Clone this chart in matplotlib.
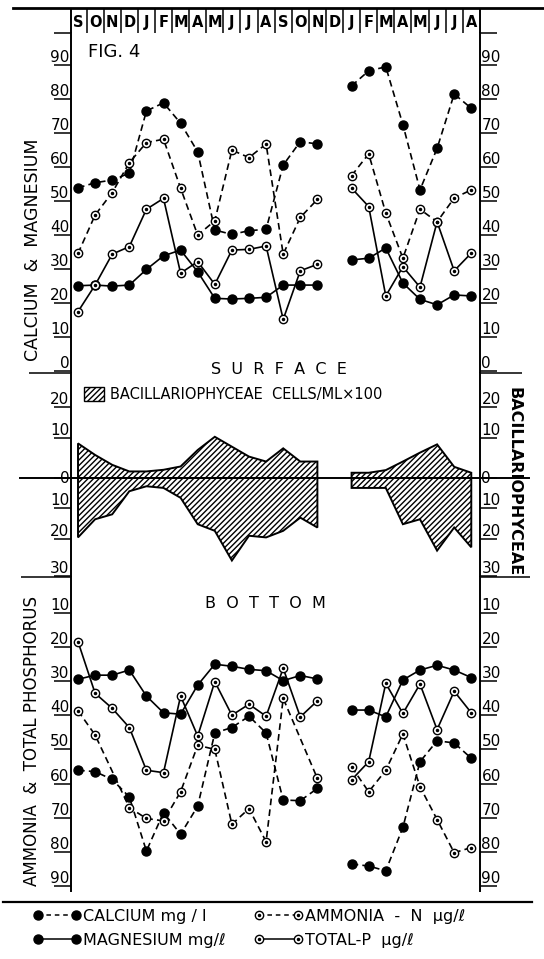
import numpy as np
import matplotlib.pyplot as plt
from matplotlib.lines import Line2D
from matplotlib.patches import Patch

# months, Sept year 1 .. Aug year 3 (Dec of 2nd year not sampled)
months = ['S', 'O', 'N', 'D', 'J', 'F', 'M', 'A', 'M', 'J', 'J', 'A',
          'S', 'O', 'N', 'D', 'J', 'F', 'M', 'A', 'M', 'J', 'J', 'A']
nan = np.nan

# surface
surf_calcium = [52.4, 53.9, 54.7, 56.7, 75.0, 77.4, 71.4, 63.0, 40.0, 38.7, 39.8, 40.2,
                59.1, 66.0, 65.3, nan, 82.4, 86.8, 88.0, 71.0, 51.8, 64.0, 80.0, 75.8]
surf_magnesium = [23.6, 23.8, 23.5, 23.8, 28.4, 32.4, 34.1, 27.7, 19.9, 19.7, 19.9, 20.2,
                  23.8, 23.8, 23.8, nan, 31.2, 31.7, 34.7, 24.4, 19.6, 18.0, 20.9, 20.6]
surf_ammonia = [33.1, 44.4, 51.0, 59.8, 65.7, 66.7, 52.3, 38.5, 42.7, 63.5, 61.3, 65.3,
                32.9, 43.7, 49.0, nan, 56.0, 62.4, 45.0, 31.7, 46.1, 42.4, 49.4, 51.8]
surf_total_p = [16.0, 23.8, 32.9, 35.1, 46.1, 49.3, 27.3, 30.7, 24.0, 34.1, 34.3, 35.3,
                13.7, 28.0, 29.9, nan, 52.3, 46.9, 20.6, 29.2, 23.2, 42.4, 28.0, 33.2]

# bacillariophyceae cells/ml x100
bac_surface = [10.5, 7.0, 4.0, 2.0, 2.0, 2.5, 3.5, 8.5, 12.5, 9.5, 6.5, 5.0,
               9.0, 5.0, 5.0, nan, 1.6, 1.6, 2.4, 5.0, 7.7, 10.2, 3.4, 1.6]
bac_bottom = [18.0, 12.5, 11.0, 4.0, 2.5, 3.0, 6.0, 14.0, 16.0, 25.0, 17.5, 18.0,
              16.0, 12.0, 15.0, nan, 3.0, 3.0, 3.0, 14.0, 12.5, 22.0, 15.0, 21.0]

# bottom
bot_calcium = [57.7, 58.1, 60.4, 65.5, 81.3, 70.1, 76.4, 68.2, 46.8, 45.2, 41.9, 46.8,
               66.4, 66.6, 63.0, nan, 85.1, 85.7, 87.1, 74.4, 55.2, 49.1, 49.7, 54.2]
bot_magnesium = [31.1, 29.9, 29.9, 28.4, 36.0, 40.9, 41.3, 32.8, 26.7, 27.3, 28.2, 28.6,
                 31.5, 30.0, 31.0, nan, 40.1, 40.1, 42.1, 31.3, 28.4, 27.0, 28.4, 30.6]
bot_ammonia = [40.3, 47.4, nan, 68.6, 71.8, 72.5, 64.0, 50.4, 51.6, 73.5, 68.9, 78.6,
               36.7, nan, 60.1, nan, 56.7, 64.0, 57.7, 47.1, 62.5, 72.1, 81.8, 80.3]
bot_total_p = [20.1, 35.2, 39.6, 45.2, 57.7, 58.4, 36.0, 47.7, 31.8, 41.6, 38.4, 41.9,
               27.9, 42.1, 37.4, nan, 60.5, 55.2, 32.3, 41.1, 32.5, 45.8, 34.6, 40.9]

plt.rcParams['hatch.linewidth'] = 1.0
W, H = 544, 959
fig = plt.figure(figsize=(W / 100, H / 100), dpi=100)
x = np.arange(len(months))
years = (x < 15, x > 15)


def fx(px):
    return px / W


def fy(py):
    return 1 - py / H


def make_ax(top, bottom):
    return fig.add_axes([fx(71), fy(bottom), fx(409), (bottom - top) / H])


def style_panel(ax, ticks, labels):
    for s in ('top', 'bottom'):
        ax.spines[s].set_visible(False)
    for s in ('left', 'right'):
        ax.spines[s].set_linewidth(1.4)
    ax.set_xlim(-0.41, 23.51)
    ax.set_xticks([])
    ax.set_yticks(ticks)
    ax.set_yticklabels(labels)
    ax.tick_params(axis='y', which='major', left=True, right=True, labelleft=True,
                   labelright=True, direction='out', length=12, width=1.1, pad=-11,
                   labelsize=11)
    for t in ax.yaxis.get_major_ticks():
        t.label1.set_verticalalignment('bottom')
        t.label2.set_verticalalignment('bottom')


def draw(ax, vals, filled, dashed):
    y = np.array(vals, dtype=float)
    ok = ~np.isnan(y)
    for part in years:
        k = part & ok
        ax.plot(x[k], y[k], color='black', lw=1.2,
                ls=(0, (4, 2.5)) if dashed else '-',
                marker='o', ms=6.5 if filled else 6,
                mfc='black' if filled else 'white', mec='black', mew=1.0, zorder=3)
        if not filled:
            ax.plot(x[k], y[k], ls='none', marker='o', ms=1.5, color='black', zorder=4)


def hatched_area(ax, vals, sign):
    y = sign * np.array(vals, dtype=float)
    for part in years:
        xs, ys = x[part], y[part]
        ax.fill(np.r_[xs, xs[::-1]], np.r_[ys, np.zeros(len(xs))],
                facecolor='white', edgecolor='black', hatch='//////', lw=1.4)


# header with month boxes
hdr = make_ax(9, 32.8)
hdr.set_xlim(-0.41, 23.51)
hdr.set_ylim(0, 1)
hdr.spines['top'].set_visible(False)
hdr.spines['bottom'].set_visible(False)
for s in ('left', 'right'):
    hdr.spines[s].set_linewidth(1.4)
hdr.set_xticks([])
hdr.set_yticks([])
hdr.set_xticks(np.arange(0.5, 23, 1), minor=True)
hdr.tick_params(which='minor', length=0)
hdr.grid(which='minor', axis='x', color='black', lw=1.1)
for i, m in enumerate(months):
    hdr.text(i, 0.45, m, ha='center', va='center', fontsize=10.5, fontweight='bold')

# surface panel
top = make_ax(32.8, 372.8)
top.set_ylim(-2, 98)
style_panel(top, [v - 1.6 for v in range(0, 100, 10)] + [98],
            [str(v) for v in range(0, 100, 10)] + [''])
top.set_yticks([-2], minor=True)
top.tick_params(axis='y', which='minor', left=True, right=True, length=30, width=1.1)
draw(top, surf_calcium, True, True)
draw(top, surf_ammonia, False, True)
draw(top, surf_magnesium, True, False)
draw(top, surf_total_p, False, False)

# bacillariophyceae panel
mid = make_ax(372.8, 577)
mid.set_ylim(-30, 31.9)
style_panel(mid, [21.5, 12.1, 0, -9.2, -18.5, -29.6],
            ['20', '10', '0', '10', '20', '30'])
for t in mid.yaxis.get_major_ticks():
    if t.label1.get_text() == '0':
        t.label1.set_verticalalignment('center')
        t.label2.set_verticalalignment('center')
mid.set_yticks([-30], minor=True)
mid.tick_params(axis='y', which='minor', left=True, right=True, length=36, width=1.1)
hatched_area(mid, bac_surface, 1)
hatched_area(mid, bac_bottom, -1)
mid.axhline(0, xmin=-0.125, xmax=1.12, color='black', lw=1.4, clip_on=False)
mid.legend(handles=[Patch(facecolor='white', edgecolor='black', hatch='//////')],
           labels=['BACILLARIOPHYCEAE  CELLS/ML×100'], loc='center left',
           bbox_to_anchor=(fx(84), fy(394)), bbox_transform=fig.transFigure,
           frameon=False, fontsize=10.5, handlelength=1.4, handleheight=1.1,
           handletextpad=0.4, borderpad=0, borderaxespad=0)

# bottom panel
bot = make_ax(577, 891)
bot.set_ylim(93, 1.2)
style_panel(bot, [v + 1.6 for v in range(10, 100, 10)],
            [str(v) for v in range(10, 100, 10)])
draw(bot, bot_calcium, True, True)
draw(bot, bot_ammonia, False, True)
draw(bot, bot_magnesium, True, False)
draw(bot, bot_total_p, False, False)

# titles and side labels
fig.text(fx(88), fy(52), 'FIG. 4', fontsize=13, ha='left', va='center')
fig.text(fx(33), fy(250), 'CALCIUM  &  MAGNESIUM', rotation=90, fontsize=12.5,
         ha='center', va='center')
fig.text(fx(32), fy(741), 'AMMONIA  &  TOTAL PHOSPHORUS', rotation=90, fontsize=12,
         ha='center', va='center')
fig.text(fx(514), fy(482), 'BACILLARIOPHYCEAE', rotation=-90, fontsize=11.5,
         fontweight='bold', ha='center', va='center')
fig.text(fx(279), fy(370), 'S  U  R  F  A  C  E', fontsize=11.5, ha='center', va='center')
fig.text(fx(265), fy(603), 'B  O  T  T  O  M', fontsize=11.5, ha='center', va='center')

fig.add_artist(Line2D([fx(13), 1], [fy(8), fy(8)], color='black', lw=2))
fig.add_artist(Line2D([fx(3), fx(532)], [fy(902), fy(902)], color='black', lw=1.6))

# legend
dash = (0, (3, 2.5))
h_ca = Line2D([], [], color='black', lw=1.1, ls=dash, marker='o', ms=6.5, mfc='black', mec='black')
h_mg = Line2D([], [], color='black', lw=1.1, ls='-', marker='o', ms=6.5, mfc='black', mec='black')
h_nh = Line2D([], [], color='black', lw=1.1, ls=dash, marker='o', ms=6, mfc='white', mec='black')
h_tp = Line2D([], [], color='black', lw=1.1, ls='-', marker='o', ms=6, mfc='white', mec='black')
h_dot = Line2D([], [], ls='none', marker='o', ms=1.5, color='black')
fig.legend(handles=[h_ca, h_mg, (h_nh, h_dot), (h_tp, h_dot)],
           labels=['CALCIUM mg / l', 'MAGNESIUM mg/ℓ', 'AMMONIA  -  N  μg/ℓ', 'TOTAL-P  μg/ℓ'],
           ncol=2, loc='upper left', bbox_to_anchor=(fx(33), fy(909)), frameon=False,
           fontsize=11.5, handlelength=3.0, handletextpad=0.15, columnspacing=1.8,
           labelspacing=0.55, borderpad=0, borderaxespad=0, numpoints=2)

fig.savefig('out.png', dpi=100)
